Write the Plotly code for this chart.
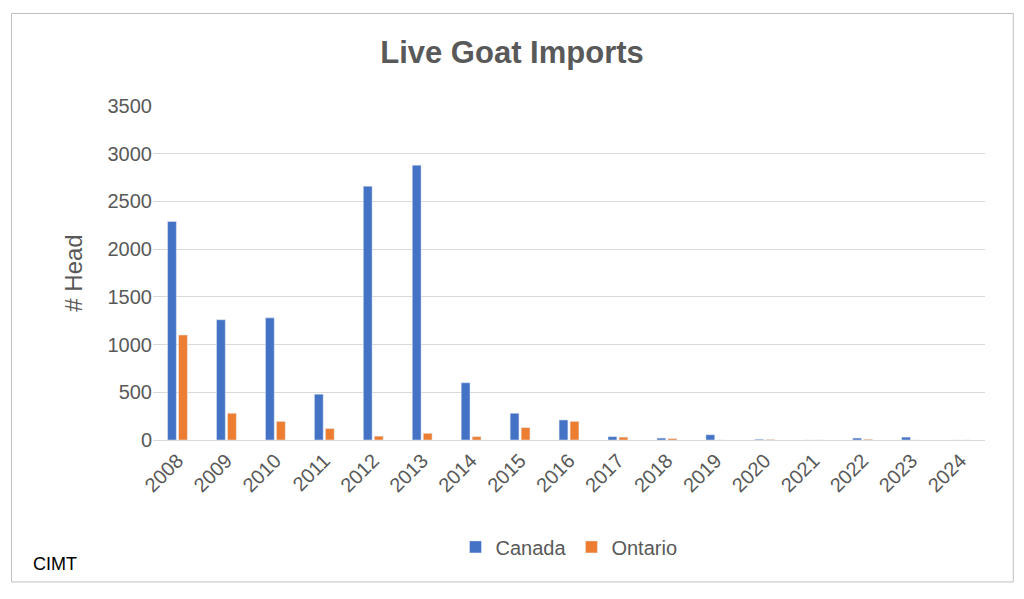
import plotly.graph_objects as go

years = [str(y) for y in range(2008, 2025)]
canada = [2290, 1260, 1280, 480, 2660, 2880, 600, 280, 210, 35, 20, 55, 8, 0, 20, 30, 0]
ontario = [1100, 280, 195, 120, 40, 70, 35, 130, 195, 30, 15, 0, 6, 0, 8, 0, 0]

fig = go.Figure()
fig.add_bar(x=years, y=canada, name="Canada", marker_color="#4472C4")
fig.add_bar(x=years, y=ontario, name="Ontario", marker_color="#ED7D31")

fig.update_layout(
    autosize=True,
    font=dict(family="Liberation Sans, Arial", color="#595959", size=20),
    title=dict(text="<b>Live Goat Imports</b>", x=0.5, y=0.925, xanchor="center",
               yanchor="middle", font=dict(size=31, color="#595959")),
    barmode="group", bargap=0.55, bargroupgap=0.2,
    plot_bgcolor="white", paper_bgcolor="white",
    margin=dict(l=145, r=31, t=98, b=151),
    legend=dict(orientation="h", x=0.5, xanchor="center", y=-0.32, yanchor="middle",
                font=dict(size=20)),
    yaxis=dict(title=dict(text="# Head", standoff=18), range=[0, 3500], dtick=500,
               gridcolor="#D9D9D9", showline=False, zeroline=False,
               tickfont=dict(size=20)),
    xaxis=dict(tickangle=-45, showline=True, linecolor="#D9D9D9",
               tickfont=dict(size=20)),
    shapes=[dict(type="rect", xref="paper", yref="paper", x0=-0.17, x1=1.034,
                 y0=-0.425, y1=1.277, line=dict(color="#BFBFBF", width=1))],
    annotations=[dict(text="CIMT", xref="paper", yref="paper", x=-0.147, y=-0.371,
                      xanchor="left", yanchor="middle", showarrow=False,
                      font=dict(size=18, color="black"))],
)
fig.write_html("out.html")
